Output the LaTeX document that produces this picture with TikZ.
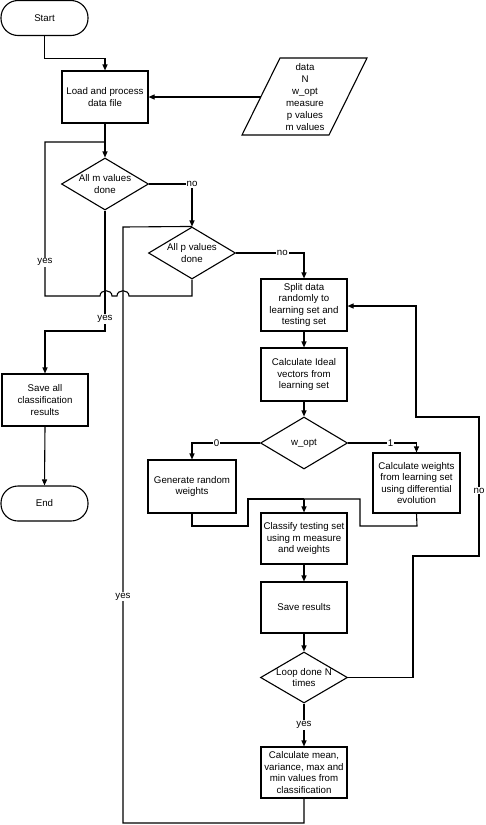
\documentclass[tikz,border=0pt]{standalone}
\usepackage{fontspec}
\setmainfont{Liberation Sans}
\usetikzlibrary{shapes.geometric,arrows.meta}
\tikzset{
  base/.style={draw, line width=1.1pt, inner sep=0pt, align=center, font=\fontsize{9.7}{11.6}\selectfont},
  box/.style={base, rectangle, minimum width=86pt, minimum height=52pt},
  term/.style={base, rectangle, rounded corners=17pt, minimum width=87pt, minimum height=35pt},
  dec/.style={base, diamond, minimum width=87pt, minimum height=52pt},
  txt/.style={align=center, inner sep=0pt, font=\fontsize{9.7}{11.6}\selectfont},
  lbl/.style={fill=white, inner sep=1pt, font=\fontsize{9.7}{11}\selectfont},
  conn/.style={line width=1.1pt},
  arr/.style={conn, -{Triangle[length=6pt,width=5pt]}},
}
\begin{document}
\begin{tikzpicture}[x=1pt,y=-1pt]
\useasboundingbox (0,0) rectangle (485,825);
% nodes
\node[term] (start) at (44.5,18) {Start};
\node[box] (load) at (105,97) {Load and process\\data file};
\draw[line width=1.1pt] (280,58) -- (367,58) -- (329,135) -- (242,135) -- cycle;
\node[txt, font=\fontsize{9.7}{12}\selectfont] (input) at (305,97) {data\\N\\w\_opt\\measure\\p values\\m values};
\coordinate (inl) at (261,97);
\node[dec] (allm) at (105,184) {};
\node[txt] at (allm) {All m values\\done};
\node[dec] (allp) at (192,253) {};
\node[txt] at (allp) {All p values\\done};
\node[box] (saveall) at (45,400) {Save all\\classification\\results};
\node[term] (end) at (44.5,503.5) {End};
\node[box] (split) at (304,305) {Split data\\randomly to\\learning set and\\testing set};
\node[box, minimum height=53pt] (ideal) at (304,374.5) {Calculate Ideal\\vectors from\\learning set};
\node[dec] (wopt) at (304,443) {};
\node[txt] at (wopt) {w\_opt};
\node[box, minimum width=88pt, minimum height=53pt] (gen) at (192,486.5) {Generate random\\weights};
\node[box, minimum width=87pt, minimum height=60pt] (cw) at (416.5,483) {Calculate weights\\from learning set\\using differential\\evolution};
\node[box, minimum height=51pt] (cls) at (304,538.5) {Classify testing set\\using m measure\\and weights};
\node[box, minimum height=51pt] (saveres) at (304,607.5) {Save results};
\node[dec, minimum height=51pt] (loop) at (304,677.5) {};
\node[txt] at (loop) {Loop done N\\times};
\node[box, minimum height=51pt] (mean) at (304,772.5) {Calculate mean,\\variance, max and\\min values from\\classification};
% connectors
\draw[arr] (start.south) -- ++(0,22) -| (load.north);
\draw[arr] (inl) -- (load.east);
\draw[arr] (load.south) -- (allm.north);
\draw[arr] (allm.east) -| node[lbl, pos=0.5] {no} (allp.north);
\draw[conn] (allp.south) -- (192,296) -- (129,296) .. controls (129,289) and (117,289) .. (117,296)
   -- (112,296) .. controls (112,289) and (100,289) .. (100,296) -- (45,296)
   -- node[lbl, pos=0.22] {yes} (45,142) -- (105,142);
\draw[arr] (allm.south) -- node[lbl, pos=0.9] {yes} (105,331) -| (saveall.north);
\draw[arr] (saveall.south) -- (end.north);
\draw[arr] (allp.east) -| node[lbl, pos=0.34] {no} (split.north);
\draw[arr] (split.south) -- (ideal.north);
\draw[arr] (ideal.south) -- (wopt.north);
\draw[arr] (wopt.west) -| node[lbl, pos=0.32] {0} (gen.north);
\draw[arr] (wopt.east) -| node[lbl, pos=0.31] {1} (cw.north);
\coordinate (mg) at (304,499);
\draw[conn] (gen.south) -- (192,526) -- (248,526) -- (248,499) -- (mg);
\draw[conn] (cw.south) -- (417,526) -- (360,526) -- (360,499) -- (mg);
\draw[arr] (mg) -- (cls.north);
\draw[arr] (cls.south) -- (saveres.north);
\draw[arr] (saveres.south) -- (loop.north);
\draw[arr] (loop.south) -- node[lbl, pos=0.5] {yes} (mean.north);
\draw[arr] (loop.east) -- (413,677.5) -- (413,556) -- (479,556) -- node[lbl, pos=0.47] {no} (479,417) -- (416,417) -- (416,306) -- (split.east |- 0,306);
\draw[conn] (mean.south) -- (304,823) -- (123,823) -- node[lbl, pos=0.38] {yes} (123,227) -- (allp.north);
\end{tikzpicture}
\end{document}
